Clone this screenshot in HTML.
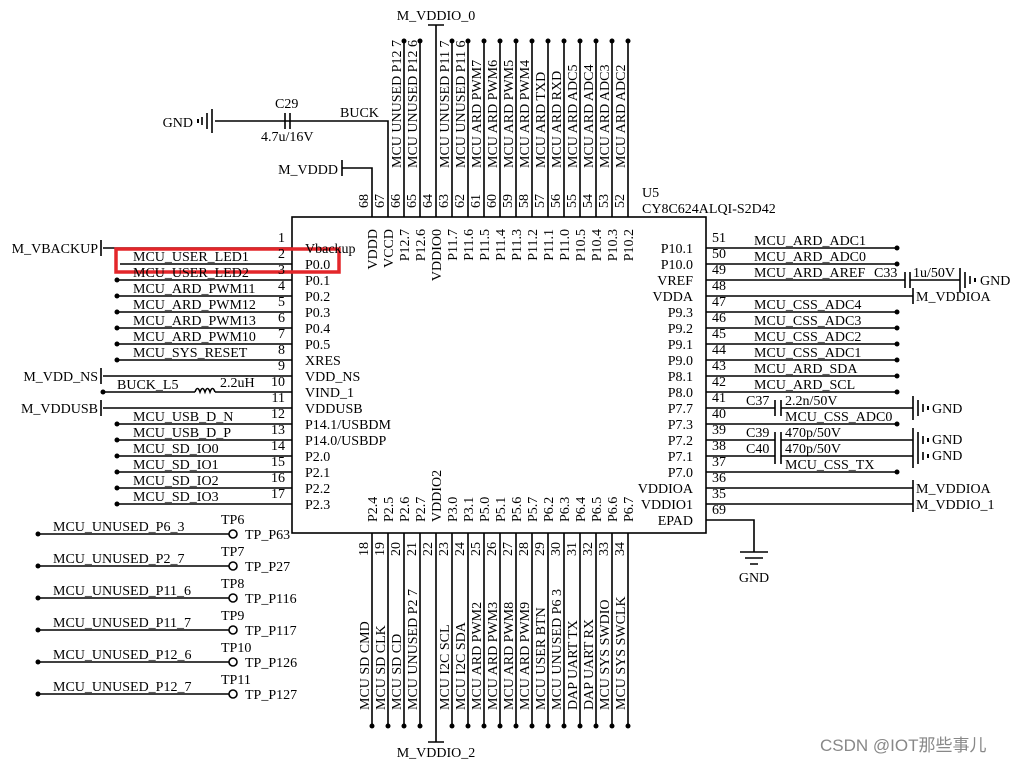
<!DOCTYPE html>
<html><head><meta charset="utf-8"><style>
html,body{margin:0;padding:0;background:#fff;}
svg{display:block;}
text{font-family:"Liberation Serif",serif;font-size:14px;fill:#000;}
.n{font-size:13px;}
.p{font-size:13.5px;}
</style></head><body>
<svg width="1017" height="763" viewBox="0 0 1017 763" xmlns="http://www.w3.org/2000/svg">
<g stroke="#000" stroke-width="1.6" fill="none">
<rect x="292" y="217" width="414" height="316"/>
<path d="M103 248H292 M120 264H292 M117 280H292 M117 296H292 M117 312H292 M117 328H292 M117 344H292 M117 360H292 M103 376H292 M103 392H195 M215 392H292 M103 408H292 M117 424H292 M117 440H292 M117 456H292 M117 472H292 M117 488H292 M117 504H292"/>
<path d="M101 240V256 M101 368V384 M101 400V416"/>
<path d="M195 392 q2.5 -7 5 0 q2.5 -7 5 0 q2.5 -7 5 0 q2.5 -7 5 0"/>
<path d="M706 248H897 M706 264H897 M706 280H905 M910 280H960 M706 296H913 M706 312H897 M706 328H897 M706 344H897 M706 360H897 M706 376H897 M706 392H897 M706 408H775 M781 408H913 M706 424H897 M706 440H775 M781 440H913 M706 456H775 M781 456H913 M706 472H897 M706 488H913 M706 504H913 M706 520H754V552"/>
<path d="M905 272V288 M910 272V288 M775 400V416 M781 400V416 M775 432V464 M781 432V464"/>
<path d="M913 288V304 M913 480V512 M913 496V512"/>
<path d="M960 268V292 M965 272V288 M970 276V284"/>
<path d="M913 396V420 M918 400V416 M923 404V412 M913 428V468 M918 432V448 M923 436V444 M918 448V464 M923 452V460"/>
<path d="M740 552H768 M745 558H763 M750 564H758"/>
<path d="M372 217V168H342 M342 160V176 M388 217V121H215 M212 109V133 M207 113V129 M202 117V125"/>
<path d="M285 113V129 M290 113V129"/>
<path d="M404 217V41 M420 217V41 M436 217V25 M428 25H444 M452 217V41 M468 217V41 M484 217V41 M500 217V41 M516 217V41 M532 217V41 M548 217V41 M564 217V41 M580 217V41 M596 217V41 M612 217V41 M628 217V41"/>
<path d="M372 533V726 M388 533V726 M404 533V726 M420 533V726 M436 533V742 M428 742H444 M452 533V726 M468 533V726 M484 533V726 M500 533V726 M516 533V726 M532 533V726 M548 533V726 M564 533V726 M580 533V726 M596 533V726 M612 533V726 M628 533V726"/>
<path d="M38 534H229 M38 566H229 M38 598H229 M38 630H229 M38 662H229 M38 694H229"/>
<circle cx="233" cy="534" r="4"/><circle cx="233" cy="566" r="4"/><circle cx="233" cy="598" r="4"/><circle cx="233" cy="630" r="4"/><circle cx="233" cy="662" r="4"/><circle cx="233" cy="694" r="4"/>
</g>
<g fill="#000">
<circle cx="38" cy="534" r="2.5"/><circle cx="38" cy="566" r="2.5"/><circle cx="38" cy="598" r="2.5"/><circle cx="38" cy="630" r="2.5"/><circle cx="38" cy="662" r="2.5"/><circle cx="38" cy="694" r="2.5"/>
<circle cx="117" cy="280" r="2.5"/><circle cx="117" cy="296" r="2.5"/><circle cx="117" cy="312" r="2.5"/><circle cx="117" cy="328" r="2.5"/><circle cx="117" cy="344" r="2.5"/><circle cx="117" cy="360" r="2.5"/><circle cx="103" cy="392" r="2.5"/><circle cx="117" cy="424" r="2.5"/><circle cx="117" cy="440" r="2.5"/><circle cx="117" cy="456" r="2.5"/><circle cx="117" cy="472" r="2.5"/><circle cx="117" cy="488" r="2.5"/><circle cx="117" cy="504" r="2.5"/>
<circle cx="897" cy="248" r="2.5"/><circle cx="897" cy="264" r="2.5"/><circle cx="897" cy="312" r="2.5"/><circle cx="897" cy="328" r="2.5"/><circle cx="897" cy="344" r="2.5"/><circle cx="897" cy="360" r="2.5"/><circle cx="897" cy="376" r="2.5"/><circle cx="897" cy="392" r="2.5"/><circle cx="897" cy="424" r="2.5"/><circle cx="897" cy="472" r="2.5"/>
<circle cx="404" cy="41" r="2.5"/><circle cx="420" cy="41" r="2.5"/><circle cx="452" cy="41" r="2.5"/><circle cx="468" cy="41" r="2.5"/><circle cx="484" cy="41" r="2.5"/><circle cx="500" cy="41" r="2.5"/><circle cx="516" cy="41" r="2.5"/><circle cx="532" cy="41" r="2.5"/><circle cx="548" cy="41" r="2.5"/><circle cx="564" cy="41" r="2.5"/><circle cx="580" cy="41" r="2.5"/><circle cx="596" cy="41" r="2.5"/><circle cx="612" cy="41" r="2.5"/><circle cx="628" cy="41" r="2.5"/>
<circle cx="372" cy="726" r="2.5"/><circle cx="388" cy="726" r="2.5"/><circle cx="404" cy="726" r="2.5"/><circle cx="420" cy="726" r="2.5"/><circle cx="452" cy="726" r="2.5"/><circle cx="468" cy="726" r="2.5"/><circle cx="484" cy="726" r="2.5"/><circle cx="500" cy="726" r="2.5"/><circle cx="516" cy="726" r="2.5"/><circle cx="532" cy="726" r="2.5"/><circle cx="548" cy="726" r="2.5"/><circle cx="564" cy="726" r="2.5"/><circle cx="580" cy="726" r="2.5"/><circle cx="596" cy="726" r="2.5"/><circle cx="612" cy="726" r="2.5"/><circle cx="628" cy="726" r="2.5"/>
<rect x="197" y="119" width="2" height="4"/><rect x="974" y="278" width="2" height="4"/><rect x="927" y="406" width="2" height="4"/><rect x="927" y="438" width="2" height="4"/><rect x="927" y="454" width="2" height="4"/>
</g>
<rect x="116" y="249" width="223" height="23" fill="none" stroke="#e3262a" stroke-width="3.5"/>

<text x="98" y="253" text-anchor="end">M_VBACKUP</text>
<text x="98" y="381" text-anchor="end">M_VDD_NS</text>
<text x="98" y="413" text-anchor="end">M_VDDUSB</text>
<text x="133" y="261">MCU_USER_LED1</text>
<text x="133" y="277">MCU_USER_LED2</text>
<text x="133" y="293">MCU_ARD_PWM11</text>
<text x="133" y="309">MCU_ARD_PWM12</text>
<text x="133" y="325">MCU_ARD_PWM13</text>
<text x="133" y="341">MCU_ARD_PWM10</text>
<text x="133" y="357">MCU_SYS_RESET</text>
<text x="117" y="389">BUCK_L5</text>
<text x="220" y="387">2.2uH</text>
<text x="133" y="421">MCU_USB_D_N</text>
<text x="133" y="437">MCU_USB_D_P</text>
<text x="133" y="453">MCU_SD_IO0</text>
<text x="133" y="469">MCU_SD_IO1</text>
<text x="133" y="485">MCU_SD_IO2</text>
<text x="133" y="501">MCU_SD_IO3</text>
<g class="n" text-anchor="end">
<text x="285" y="242">1</text><text x="285" y="258">2</text><text x="285" y="274">3</text><text x="285" y="290">4</text><text x="285" y="306">5</text><text x="285" y="322">6</text><text x="285" y="338">7</text><text x="285" y="354">8</text><text x="285" y="370">9</text><text x="285" y="386">10</text><text x="285" y="402">11</text><text x="285" y="418">12</text><text x="285" y="434">13</text><text x="285" y="450">14</text><text x="285" y="466">15</text><text x="285" y="482">16</text><text x="285" y="498">17</text>
</g>
<g class="p">
<text x="305" y="253">Vbackup</text><text x="305" y="269">P0.0</text><text x="305" y="285">P0.1</text><text x="305" y="301">P0.2</text><text x="305" y="317">P0.3</text><text x="305" y="333">P0.4</text><text x="305" y="349">P0.5</text><text x="305" y="365">XRES</text><text x="305" y="381">VDD_NS</text><text x="305" y="397">VIND_1</text><text x="305" y="413">VDDUSB</text><text x="305" y="429">P14.1/USBDM</text><text x="305" y="445">P14.0/USBDP</text><text x="305" y="461">P2.0</text><text x="305" y="477">P2.1</text><text x="305" y="493">P2.2</text><text x="305" y="509">P2.3</text>
</g>
<g class="p" text-anchor="end">
<text x="693" y="253">P10.1</text><text x="693" y="269">P10.0</text><text x="693" y="285">VREF</text><text x="693" y="301">VDDA</text><text x="693" y="317">P9.3</text><text x="693" y="333">P9.2</text><text x="693" y="349">P9.1</text><text x="693" y="365">P9.0</text><text x="693" y="381">P8.1</text><text x="693" y="397">P8.0</text><text x="693" y="413">P7.7</text><text x="693" y="429">P7.3</text><text x="693" y="445">P7.2</text><text x="693" y="461">P7.1</text><text x="693" y="477">P7.0</text><text x="693" y="493">VDDIOA</text><text x="693" y="509">VDDIO1</text><text x="693" y="525">EPAD</text>
</g>
<g class="n">
<text x="712" y="242">51</text><text x="712" y="258">50</text><text x="712" y="274">49</text><text x="712" y="290">48</text><text x="712" y="306">47</text><text x="712" y="322">46</text><text x="712" y="338">45</text><text x="712" y="354">44</text><text x="712" y="370">43</text><text x="712" y="386">42</text><text x="712" y="402">41</text><text x="712" y="418">40</text><text x="712" y="434">39</text><text x="712" y="450">38</text><text x="712" y="466">37</text><text x="712" y="482">36</text><text x="712" y="498">35</text><text x="712" y="514">69</text>
</g>
<text x="754" y="245">MCU_ARD_ADC1</text>
<text x="754" y="261">MCU_ARD_ADC0</text>
<text x="754" y="277">MCU_ARD_AREF</text>
<text x="874" y="277">C33</text>
<text x="913" y="277">1u/50V</text>
<text x="980" y="285">GND</text>
<text x="916" y="301">M_VDDIOA</text>
<text x="754" y="309">MCU_CSS_ADC4</text>
<text x="754" y="325">MCU_CSS_ADC3</text>
<text x="754" y="341">MCU_CSS_ADC2</text>
<text x="754" y="357">MCU_CSS_ADC1</text>
<text x="754" y="373">MCU_ARD_SDA</text>
<text x="754" y="389">MCU_ARD_SCL</text>
<text x="746" y="405">C37</text>
<text x="785" y="405">2.2n/50V</text>
<text x="785" y="421">MCU_CSS_ADC0</text>
<text x="932" y="413">GND</text>
<text x="746" y="437">C39</text>
<text x="785" y="437">470p/50V</text>
<text x="746" y="453">C40</text>
<text x="785" y="453">470p/50V</text>
<text x="932" y="444">GND</text>
<text x="932" y="460">GND</text>
<text x="785" y="469">MCU_CSS_TX</text>
<text x="916" y="493">M_VDDIOA</text>
<text x="916" y="509">M_VDDIO_1</text>
<text x="754" y="582" text-anchor="middle">GND</text>
<text x="642" y="197">U5</text>
<text x="642" y="213">CY8C624ALQI-S2D42</text>
<text x="193" y="127" text-anchor="end">GND</text>
<text x="275" y="108">C29</text>
<text x="261" y="141">4.7u/16V</text>
<text x="340" y="117">BUCK</text>
<text x="338" y="174" text-anchor="end">M_VDDD</text>
<text x="436" y="20" text-anchor="middle">M_VDDIO_0</text>
<g>
<text transform="translate(401,168) rotate(-90)">MCU UNUSED P12 7</text>
<text transform="translate(417,168) rotate(-90)">MCU UNUSED P12 6</text>
<text transform="translate(449,168) rotate(-90)">MCU UNUSED P11 7</text>
<text transform="translate(465,168) rotate(-90)">MCU UNUSED P11 6</text>
<text transform="translate(481,168) rotate(-90)">MCU ARD PWM7</text>
<text transform="translate(497,168) rotate(-90)">MCU ARD PWM6</text>
<text transform="translate(513,168) rotate(-90)">MCU ARD PWM5</text>
<text transform="translate(529,168) rotate(-90)">MCU ARD PWM4</text>
<text transform="translate(545,168) rotate(-90)">MCU ARD TXD</text>
<text transform="translate(561,168) rotate(-90)">MCU ARD RXD</text>
<text transform="translate(577,168) rotate(-90)">MCU ARD ADC5</text>
<text transform="translate(593,168) rotate(-90)">MCU ARD ADC4</text>
<text transform="translate(609,168) rotate(-90)">MCU ARD ADC3</text>
<text transform="translate(625,168) rotate(-90)">MCU ARD ADC2</text>
</g>
<g class="n">
<text transform="translate(368,208) rotate(-90)">68</text><text transform="translate(384,208) rotate(-90)">67</text><text transform="translate(400,208) rotate(-90)">66</text><text transform="translate(416,208) rotate(-90)">65</text><text transform="translate(432,208) rotate(-90)">64</text><text transform="translate(448,208) rotate(-90)">63</text><text transform="translate(464,208) rotate(-90)">62</text><text transform="translate(480,208) rotate(-90)">61</text><text transform="translate(496,208) rotate(-90)">60</text><text transform="translate(512,208) rotate(-90)">59</text><text transform="translate(528,208) rotate(-90)">58</text><text transform="translate(544,208) rotate(-90)">57</text><text transform="translate(560,208) rotate(-90)">56</text><text transform="translate(576,208) rotate(-90)">55</text><text transform="translate(592,208) rotate(-90)">54</text><text transform="translate(608,208) rotate(-90)">53</text><text transform="translate(624,208) rotate(-90)">52</text>
</g>
<g class="p" text-anchor="end">
<text transform="translate(377,229) rotate(-90)">VDDD</text><text transform="translate(393,229) rotate(-90)">VCCD</text><text transform="translate(409,229) rotate(-90)">P12.7</text><text transform="translate(425,229) rotate(-90)">P12.6</text><text transform="translate(441,229) rotate(-90)">VDDIO0</text><text transform="translate(457,229) rotate(-90)">P11.7</text><text transform="translate(473,229) rotate(-90)">P11.6</text><text transform="translate(489,229) rotate(-90)">P11.5</text><text transform="translate(505,229) rotate(-90)">P11.4</text><text transform="translate(521,229) rotate(-90)">P11.3</text><text transform="translate(537,229) rotate(-90)">P11.2</text><text transform="translate(553,229) rotate(-90)">P11.1</text><text transform="translate(569,229) rotate(-90)">P11.0</text><text transform="translate(585,229) rotate(-90)">P10.5</text><text transform="translate(601,229) rotate(-90)">P10.4</text><text transform="translate(617,229) rotate(-90)">P10.3</text><text transform="translate(633,229) rotate(-90)">P10.2</text>
</g>
<g class="p">
<text transform="translate(377,522) rotate(-90)">P2.4</text><text transform="translate(393,522) rotate(-90)">P2.5</text><text transform="translate(409,522) rotate(-90)">P2.6</text><text transform="translate(425,522) rotate(-90)">P2.7</text><text transform="translate(441,522) rotate(-90)">VDDIO2</text><text transform="translate(457,522) rotate(-90)">P3.0</text><text transform="translate(473,522) rotate(-90)">P3.1</text><text transform="translate(489,522) rotate(-90)">P5.0</text><text transform="translate(505,522) rotate(-90)">P5.1</text><text transform="translate(521,522) rotate(-90)">P5.6</text><text transform="translate(537,522) rotate(-90)">P5.7</text><text transform="translate(553,522) rotate(-90)">P6.2</text><text transform="translate(569,522) rotate(-90)">P6.3</text><text transform="translate(585,522) rotate(-90)">P6.4</text><text transform="translate(601,522) rotate(-90)">P6.5</text><text transform="translate(617,522) rotate(-90)">P6.6</text><text transform="translate(633,522) rotate(-90)">P6.7</text>
</g>
<g class="n">
<text transform="translate(368,556) rotate(-90)">18</text><text transform="translate(384,556) rotate(-90)">19</text><text transform="translate(400,556) rotate(-90)">20</text><text transform="translate(416,556) rotate(-90)">21</text><text transform="translate(432,556) rotate(-90)">22</text><text transform="translate(448,556) rotate(-90)">23</text><text transform="translate(464,556) rotate(-90)">24</text><text transform="translate(480,556) rotate(-90)">25</text><text transform="translate(496,556) rotate(-90)">26</text><text transform="translate(512,556) rotate(-90)">27</text><text transform="translate(528,556) rotate(-90)">28</text><text transform="translate(544,556) rotate(-90)">29</text><text transform="translate(560,556) rotate(-90)">30</text><text transform="translate(576,556) rotate(-90)">31</text><text transform="translate(592,556) rotate(-90)">32</text><text transform="translate(608,556) rotate(-90)">33</text><text transform="translate(624,556) rotate(-90)">34</text>
</g>
<g>
<text transform="translate(369,710) rotate(-90)">MCU SD CMD</text>
<text transform="translate(385,710) rotate(-90)">MCU SD CLK</text>
<text transform="translate(401,710) rotate(-90)">MCU SD CD</text>
<text transform="translate(417,710) rotate(-90)">MCU UNUSED P2 7</text>
<text transform="translate(449,710) rotate(-90)">MCU I2C SCL</text>
<text transform="translate(465,710) rotate(-90)">MCU I2C SDA</text>
<text transform="translate(481,710) rotate(-90)">MCU ARD PWM2</text>
<text transform="translate(497,710) rotate(-90)">MCU ARD PWM3</text>
<text transform="translate(513,710) rotate(-90)">MCU ARD PWM8</text>
<text transform="translate(529,710) rotate(-90)">MCU ARD PWM9</text>
<text transform="translate(545,710) rotate(-90)">MCU USER BTN</text>
<text transform="translate(561,710) rotate(-90)">MCU UNUSED P6 3</text>
<text transform="translate(577,710) rotate(-90)">DAP UART TX</text>
<text transform="translate(593,710) rotate(-90)">DAP UART RX</text>
<text transform="translate(609,710) rotate(-90)">MCU SYS SWDIO</text>
<text transform="translate(625,710) rotate(-90)">MCU SYS SWCLK</text>
</g>
<text x="436" y="757" text-anchor="middle">M_VDDIO_2</text>
<text x="53" y="531">MCU_UNUSED_P6_3</text><text x="221" y="524">TP6</text><text x="245" y="539">TP_P63</text>
<text x="53" y="563">MCU_UNUSED_P2_7</text><text x="221" y="556">TP7</text><text x="245" y="571">TP_P27</text>
<text x="53" y="595">MCU_UNUSED_P11_6</text><text x="221" y="588">TP8</text><text x="245" y="603">TP_P116</text>
<text x="53" y="627">MCU_UNUSED_P11_7</text><text x="221" y="620">TP9</text><text x="245" y="635">TP_P117</text>
<text x="53" y="659">MCU_UNUSED_P12_6</text><text x="221" y="652">TP10</text><text x="245" y="667">TP_P126</text>
<text x="53" y="691">MCU_UNUSED_P12_7</text><text x="221" y="684">TP11</text><text x="245" y="699">TP_P127</text>
<text x="820" y="751" style="font-family:'Liberation Sans','Noto Sans CJK SC',sans-serif;font-size:17px;fill:#888">CSDN @IOT那些事儿</text>
</svg>
</body></html>
